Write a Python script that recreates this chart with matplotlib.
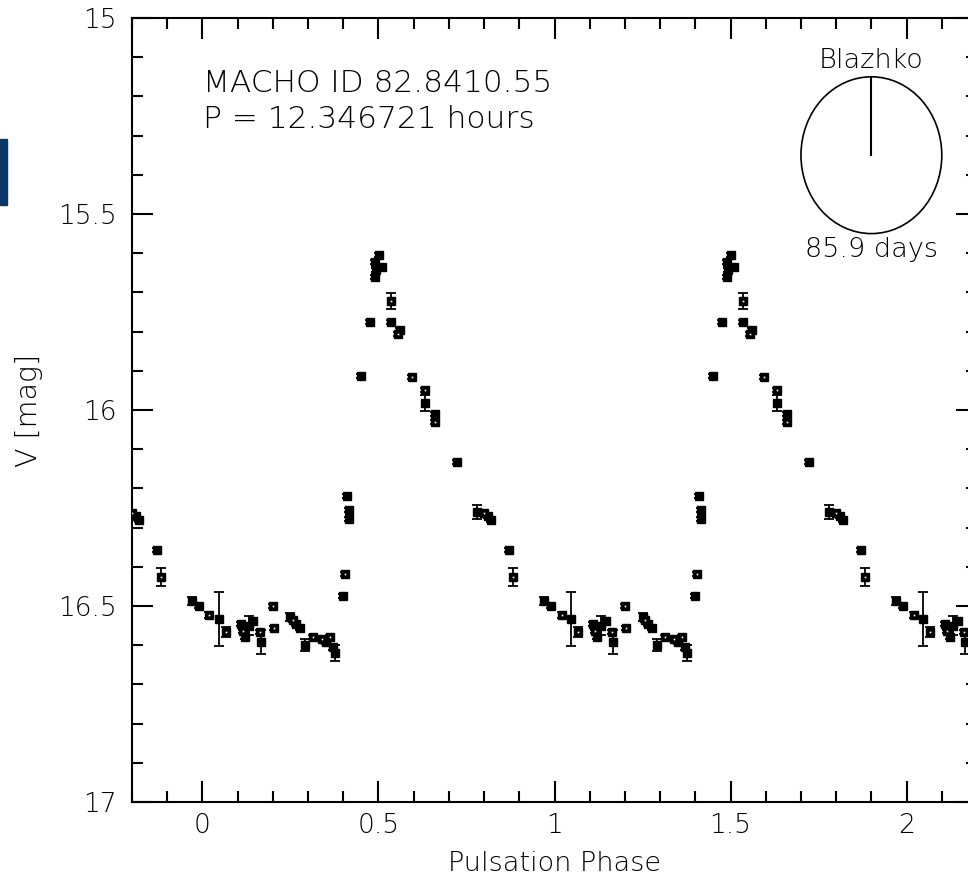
import matplotlib
matplotlib.use("Agg")
import matplotlib.pyplot as plt
from matplotlib.patches import Ellipse, Rectangle
from matplotlib.ticker import MultipleLocator
import numpy as np

# Phase-folded MACHO photometry (one cycle, phase in [0, 1))
phase = [0.020, 0.047, 0.066, 0.110, 0.116, 0.122, 0.132, 0.145,
         0.163, 0.166, 0.201, 0.203, 0.250, 0.258, 0.266, 0.278,
         0.292, 0.315, 0.340, 0.350, 0.362, 0.370, 0.376,
         0.400, 0.406, 0.411, 0.417, 0.417, 0.451, 0.477,
         0.491, 0.494, 0.491, 0.502, 0.510, 0.536, 0.536, 0.556,
         0.562, 0.595, 0.633, 0.633, 0.661, 0.661, 0.723,
         0.780, 0.800, 0.810, 0.820, 0.870, 0.882, 0.969, 0.990]
vmag = [16.523, 16.533, 16.566, 16.545, 16.565, 16.578, 16.550, 16.538,
        16.566, 16.592, 16.500, 16.556, 16.527, 16.535, 16.545, 16.555,
        16.600, 16.580, 16.585, 16.592, 16.580, 16.605, 16.620,
        16.475, 16.418, 16.220, 16.255, 16.278, 15.913, 15.776,
        15.622, 15.643, 15.660, 15.605, 15.635, 15.722, 15.776, 15.806,
        15.795, 15.915, 15.950, 15.982, 16.010, 16.030, 16.133,
        16.260, 16.262, 16.270, 16.280, 16.357, 16.426, 16.487, 16.500]
verr = [0.008, 0.068, 0.013, 0.005, 0.005, 0.005, 0.025, 0.005,
        0.005, 0.030, 0.005, 0.005, 0.010, 0.005, 0.005, 0.005,
        0.015, 0.005, 0.005, 0.005, 0.005, 0.008, 0.020,
        0.005, 0.005, 0.005, 0.005, 0.005, 0.005, 0.005,
        0.005, 0.005, 0.005, 0.005, 0.005, 0.021, 0.005, 0.005,
        0.005, 0.005, 0.005, 0.020, 0.005, 0.005, 0.005,
        0.018, 0.005, 0.005, 0.005, 0.005, 0.023, 0.011, 0.005]
# points drawn with an open centre
hollow = [1, 0, 1, 0, 1, 0, 0, 0,
          1, 0, 1, 1, 0, 1, 0, 0,
          0, 1, 1, 0, 1, 0, 0,
          0, 1, 0, 0, 0, 0, 0,
          0, 0, 0, 0, 0, 1, 0, 1,
          0, 1, 1, 0, 0, 1, 0,
          0, 1, 0, 0, 0, 1, 0, 0]

cycle_offsets = [-1, 0, 1, 2]

star_id = "MACHO ID 82.8410.55"
period_text = "P = 12.346721 hours"
blazhko_title = "Blazhko"
blazhko_period = "85.9 days"

plt.rcParams["font.family"] = ["DejaVu Sans"]
plt.rcParams["font.weight"] = "light"
plt.rcParams["axes.labelweight"] = "light"

W, H = 968, 876
fig = plt.figure(figsize=(W / 100, H / 100), dpi=100)
fig.patch.set_facecolor("white")

left, right, top, bottom = 132, 977, 18, 802
ax = fig.add_axes([left / W, (H - bottom) / H, (right - left) / W, (bottom - top) / H])

ph = np.asarray(phase)
mg = np.asarray(vmag)
er = np.asarray(verr)
op = np.asarray(hollow, dtype=bool)
for k in cycle_offsets:
    ax.errorbar(ph + k, mg, yerr=er, fmt="s", color="black", ms=5.8,
                mec="black", mfc="black", elinewidth=1.3, capsize=3.4,
                capthick=1.3, ecolor="black", zorder=3)
    ax.plot(ph[op] + k, mg[op], "s", ms=1.2, color="white", mew=0, zorder=4)

ax.set_xlim(-0.2, 2.2)
ax.set_ylim(17, 15)

ax.xaxis.set_major_locator(MultipleLocator(0.5))
ax.xaxis.set_minor_locator(MultipleLocator(0.1))
ax.yaxis.set_major_locator(MultipleLocator(0.5))
ax.yaxis.set_minor_locator(MultipleLocator(0.1))
ax.xaxis.set_major_formatter(plt.FuncFormatter(lambda v, p: f"{v:g}"))
ax.yaxis.set_major_formatter(plt.FuncFormatter(lambda v, p: f"{v:g}"))

ax.tick_params(which="both", direction="in", top=True, right=True,
               width=1.5, labelsize=19, colors="black")
ax.tick_params(which="major", length=15)
ax.tick_params(which="minor", length=8)
ax.tick_params(axis="y", pad=11)
ax.tick_params(axis="x", pad=8)
for s in ax.spines.values():
    s.set_linewidth(1.5)

ax.set_xlabel("Pulsation Phase", fontsize=19.5, labelpad=9)
ax.set_ylabel("V [mag]", fontsize=20.5, labelpad=11)

ax.text(0.003, 15.19, star_id, fontsize=22.5, ha="left", va="baseline")
ax.text(0.003, 15.28, period_text, fontsize=22.5, ha="left", va="baseline")

# Blazhko phase dial
ax.add_patch(Ellipse((1.9, 15.35), 0.4, 0.4, fill=False, lw=1.2, color="black"))
ax.plot([1.9, 1.9], [15.15, 15.35], color="black", lw=1.5)
ax.text(1.9, 15.128, blazhko_title, fontsize=19.5, ha="center", va="baseline")
ax.text(1.9, 15.61, blazhko_period, fontsize=19.5, ha="center", va="baseline")

# navy tab on the left edge
fig.patches.append(Rectangle((0, (H - 205) / H), 7 / W, 66 / H,
                             transform=fig.transFigure, color="#0b3768",
                             zorder=5))

fig.savefig("out.png", dpi=100)
